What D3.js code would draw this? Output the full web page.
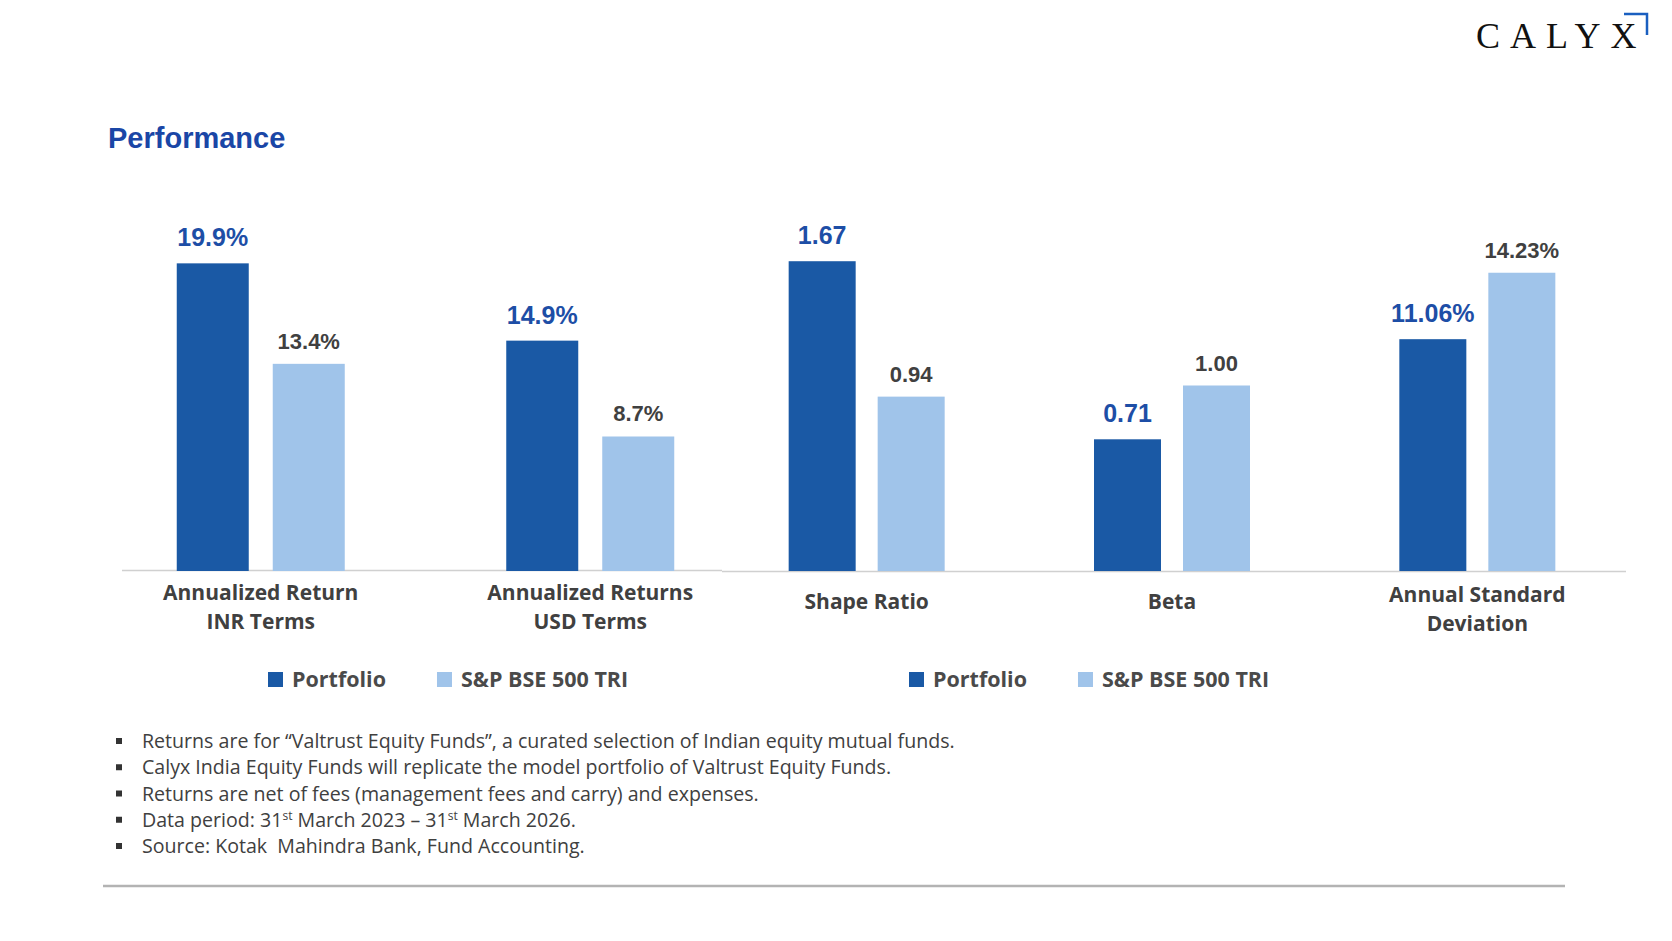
<!DOCTYPE html>
<html>
<head>
<meta charset="utf-8">
<script src="https://cdn.jsdelivr.net/npm/d3@7"></script>
<style>
  body { margin: 0; background: #fff; }
  svg { display: block; }
</style>
</head>
<body>
<div class="chart"></div>
<script>
// data
var categories = [["Annualized Return", "INR Terms"], ["Annualized Returns", "USD Terms"],
                  ["Shape Ratio"], ["Beta"], ["Annual Standard", "Deviation"]];
var units = ["pct", "pct", "ratio", "ratio", "sd"];
var portfolio = [19.9, 14.9, 1.67, 0.71, 11.06];
var benchmark = [13.4, 8.7, 0.94, 1.00, 14.23];
var series = ["Portfolio", "S&P BSE 500 TRI"];
var panels = [[0, 1], [2, 3, 4]];
var notes = [
  ["Returns are for \u201cValtrust Equity Funds\u201d, a curated selection of Indian equity mutual funds."],
  ["Calyx India Equity Funds will replicate the model portfolio of Valtrust Equity Funds."],
  ["Returns are net of fees (management fees and carry) and expenses."],
  ["Data period: 31", "^st", " March 2023 \u2013 31", "^st", " March 2026."],
  ["Source: Kotak  Mahindra Bank, Fund Accounting."]
];

var W = 1672, H = 941;
var base = 571;
var dark = "#1a59a5", light = "#a0c4ea";
var blue = "#1d4ea6", gray = "#404040";

var svg = d3.select(".chart").append("svg")
    .attr("width", W)
    .attr("height", H);

svg.append("rect").attr("width", W).attr("height", H).attr("fill", "#fff");

// logo
svg.append("text")
    .attr("x", 1476)
    .attr("y", 48)
    .style("font-family", "'Liberation Serif', 'DejaVu Serif', serif")
    .style("font-size", "36px")
    .style("letter-spacing", "10px")
    .attr("fill", "#111")
    .text("CALYX");
svg.append("path")
    .attr("d", "M1624,14 H1647 V35")
    .attr("fill", "none")
    .attr("stroke", "#1a5fc0")
    .attr("stroke-width", 2.5);

// title
svg.append("text")
    .attr("x", 108)
    .attr("y", 148)
    .style("font-family", "'Liberation Sans', Arial, sans-serif")
    .style("font-weight", "bold")
    .style("font-size", "29px")
    .attr("fill", "#1a46a6")
    .text("Performance");

// one y scale per kind of metric
var yScales = {
  pct: d3.scaleLinear().domain([0, 20]).range([base, base - 309.2]),
  ratio: d3.scaleLinear().domain([0, 2]).range([base, base - 371]),
  sd: d3.scaleLinear().domain([0, 15]).range([base, base - 314.4])
};
var fmt = {
  pct: function(v) { return d3.format(".1f")(v) + "%"; },
  ratio: d3.format(".2f"),
  sd: function(v) { return d3.format(".2f")(v) + "%"; }
};

var panelSetup = [
  { range: [96, 755], axis: [122, 722], barW: 72, gap: 24, legendX: 268 },
  { range: [714, 1630], axis: [722, 1626], barW: 67, gap: 22, legendX: 909 }
];

panels.forEach(function(idx, p) {
  var cfg = panelSetup[p];
  var x0 = d3.scaleBand().domain(idx).range(cfg.range);
  var step = cfg.barW + cfg.gap;
  var total = step * 2 - cfg.gap;
  var off = (x0.bandwidth() - total) / 2;
  var x1 = d3.scaleBand().domain(series).range([off, off + total]).paddingInner(cfg.gap / step);

  var g = svg.append("g");

  g.append("line")
      .attr("x1", cfg.axis[0]).attr("x2", cfg.axis[1])
      .attr("y1", base - 0.5 + p).attr("y2", base - 0.5 + p)
      .attr("stroke", "#d0d0d0")
      .attr("stroke-width", 1.5);

  var groups = g.selectAll(".grp")
      .data(idx)
      .enter().append("g")
      .attr("class", "grp")
      .attr("transform", function(i) { return "translate(" + x0(i) + ",0)"; });

  function pair(i) {
    return [{ s: series[0], v: portfolio[i], u: units[i] }, { s: series[1], v: benchmark[i], u: units[i] }];
  }

  groups.selectAll("rect")
      .data(pair)
      .enter().append("rect")
      .attr("x", function(d) { return x1(d.s); })
      .attr("y", function(d) { return yScales[d.u](d.v); })
      .attr("width", x1.bandwidth())
      .attr("height", function(d) { return base - yScales[d.u](d.v); })
      .attr("fill", function(d) { return d.s === series[0] ? dark : light; });

  groups.selectAll(".val")
      .data(pair)
      .enter().append("text")
      .attr("class", "val")
      .attr("x", function(d) { return x1(d.s) + x1.bandwidth() / 2; })
      .attr("y", function(d) { return yScales[d.u](d.v) - (d.s === series[0] ? 17 : 15); })
      .attr("text-anchor", "middle")
      .style("font-family", "'Liberation Sans', Arial, sans-serif")
      .style("font-weight", "bold")
      .style("font-size", function(d) { return d.s === series[0] ? "25px" : "22px"; })
      .attr("fill", function(d) { return d.s === series[0] ? blue : gray; })
      .text(function(d) { return fmt[d.u](d.v); });

  // category labels
  groups.append("text")
      .attr("x", x0.bandwidth() / 2)
      .attr("y", function(i) { return (categories[i].length === 1 ? 607 : 600) + p * 2; })
      .attr("text-anchor", "middle")
      .style("font-family", "'Open Sans', sans-serif")
      .style("font-weight", "bold")
      .style("font-size", "21px")
      .attr("fill", gray)
      .selectAll("tspan")
      .data(function(i) { return categories[i]; })
      .enter().append("tspan")
      .attr("x", x0.bandwidth() / 2)
      .attr("dy", function(d, k) { return k ? 29 : 0; })
      .text(function(d) { return d; });

  // legend
  var lx = cfg.legendX;
  series.forEach(function(s, k) {
    g.append("rect")
        .attr("x", lx).attr("y", 672)
        .attr("width", 15).attr("height", 15)
        .attr("fill", k ? light : dark);
    var t = g.append("text")
        .attr("x", lx + 24).attr("y", 687)
        .style("font-family", "'Open Sans', sans-serif")
        .style("font-weight", "bold")
        .style("font-size", "21.5px")
        .attr("fill", "#4a4a4a")
        .text(s);
    lx = lx + 24 + t.node().getComputedTextLength() + 51;
  });
});

// footnotes
var ny = d3.scaleLinear().domain([0, 4]).range([748, 853]);
notes.forEach(function(parts, i) {
  svg.append("rect")
      .attr("x", 116).attr("y", ny(i) - 10)
      .attr("width", 6).attr("height", 6)
      .attr("fill", "#333");
  var t = svg.append("text")
      .attr("x", 142).attr("y", ny(i))
      .attr("xml:space", "preserve")
      .style("white-space", "pre")
      .style("font-family", "'Open Sans', sans-serif")
      .style("font-size", "19.6px")
      .attr("fill", gray);
  var shift = 0;
  parts.forEach(function(s) {
    if (s.charAt(0) === "^") {
      t.append("tspan").attr("dy", -7).style("font-size", "12px").text(s.slice(1));
      shift = 7;
    } else {
      t.append("tspan").attr("dy", shift).text(s);
      shift = 0;
    }
  });
});

svg.append("line")
    .attr("x1", 103).attr("x2", 1565)
    .attr("y1", 886).attr("y2", 886)
    .attr("stroke", "#b3b3b3")
    .attr("stroke-width", 2.5);
</script>
</body>
</html>
